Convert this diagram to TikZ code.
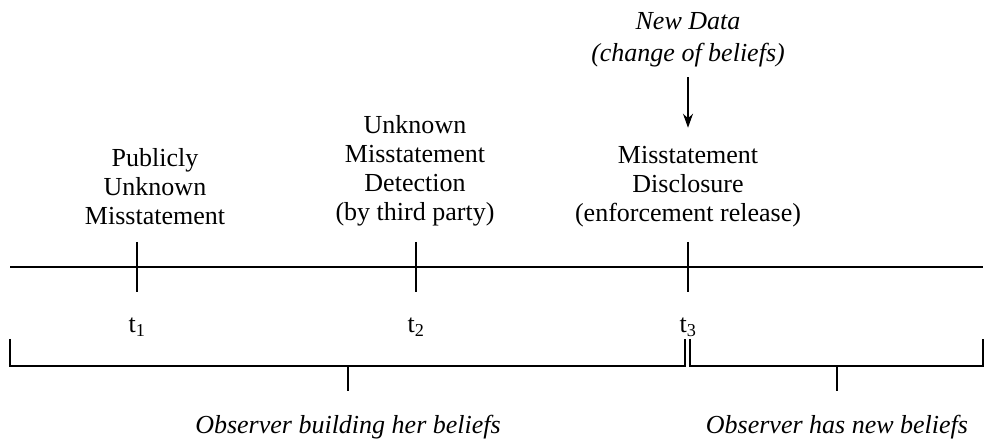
\documentclass[tikz,border=0pt]{standalone}
\usepackage{fontspec}
\setmainfont{Liberation Serif}
\usetikzlibrary{arrows.meta}
\newcommand\eventfont{\fontsize{26}{29}\selectfont}

\tikzset{%
  event/.style={
    align=center,
    inner sep=2pt,
    font=\eventfont
  },
  period/.style={
    font=\eventfont\itshape
  },
}

\begin{document}
\begin{tikzpicture}[x=1pt, y=1pt, >={Stealth[length=14pt, width=10pt]}, line width=1.8pt]

\useasboundingbox (0,0) rectangle (985,442);

\coordinate (start) at (10,175);
\coordinate (end) at (983,175);
\draw (start) -- (end);

\foreach \x [count=\i] in {137,416,688} {
  \coordinate (tick top-\i) at (\x,200);
  \coordinate (tick bottom-\i) at (\x,150);
  \draw (tick top-\i) -- (tick bottom-\i);
  \node [event] (time-\i) at (\x,115) {t\textsubscript{\i}};
}

\node [event] (publicly) at (155,255) {Publicly\\Unknown\\Misstatement};
\node [event] (detection) at (415,271) {Unknown\\Misstatement\\Detection\\(by third party)};
\node [event] (disclosure) at (688,255) {Misstatement\\Disclosure\\(enforcement release)};
\node [event, font=\eventfont\itshape] (newdata) at (688,402) {New Data\\[3pt](change of beliefs)};

\draw [->, line width=1.4pt, shorten <=7pt, shorten >=16pt] (newdata) -- (disclosure);

\foreach \a/\b/\m/\l in {10/685/348/{Observer building her beliefs},
                         690/983/837/{Observer has new beliefs}} {
  \draw (\a,103) -- (\a,76) -- (\b,76) -- (\b,103);
  \draw (\m,76) -- (\m,51);
  \node [period] at (\m,15) {\l};
}

\end{tikzpicture}
\end{document}
